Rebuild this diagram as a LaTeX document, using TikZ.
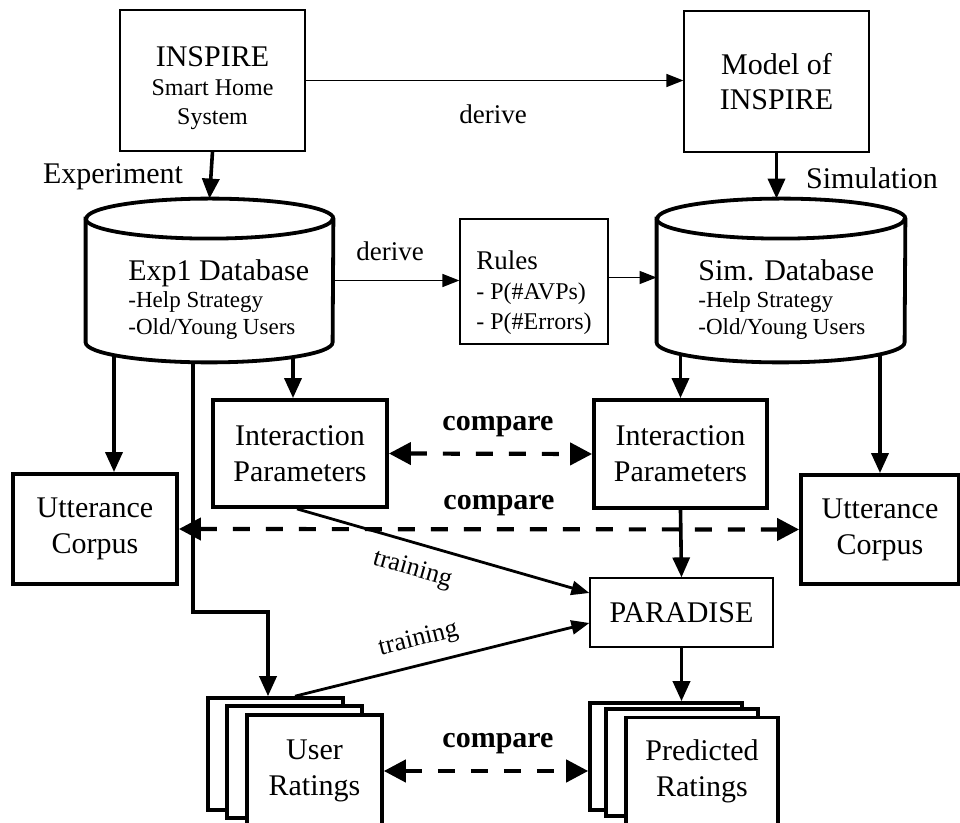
\documentclass[tikz,border=0pt]{standalone}
\usepackage{fontspec}
\setmainfont{Liberation Serif}
\usetikzlibrary{arrows.meta}

\begin{document}
\begin{tikzpicture}[x=0.5pt, y=-0.5pt,
  thinbox/.style={draw, line width=0.6pt, align=center, inner sep=0pt, font=\fontsize{15}{17.5}\selectfont},
  thickbox/.style={draw, line width=1.9pt, align=center, inner sep=0pt, font=\fontsize{15}{18}\selectfont},
  page/.style={draw, line width=1.8pt, fill=white, align=center, inner sep=0pt, font=\fontsize{15}{18}\selectfont},
  dbline/.style={line width=1.9pt, fill=white},
  dbtext/.style={align=left, inner sep=0pt, anchor=west, font=\fontsize{11.5}{13.5}\selectfont},
  lbl/.style={font=\fontsize{15}{18}\selectfont, inner sep=0pt},
  cmplbl/.style={font=\bfseries\fontsize{15}{18}\selectfont, inner sep=0pt},
  trainlbl/.style={font=\fontsize{13}{15}\selectfont, inner sep=0pt, sloped},
  arr/.style={line width=1.8pt, -{Triangle[length=10pt,width=8.5pt]}},
  thinarr/.style={line width=0.7pt, -{Triangle[length=8.5pt,width=6.5pt]}},
  trainarr/.style={line width=1.4pt, -{Triangle[length=9pt,width=7pt]}},
  cmparr/.style={line width=2.1pt, dash pattern=on 8.5pt off 8pt,
    {Triangle[length=11pt,width=11pt]}-{Triangle[length=11pt,width=11pt]}}]

\useasboundingbox (0,0) rectangle (960,823);

% systems
\node[thinbox, minimum width=92.5pt, minimum height=70.5pt, font=\fontsize{12}{14.5}\selectfont] (inspire) at (212.5,80.5)
  {\rule{0pt}{17.5pt}{\fontsize{15}{14.5}\selectfont INSPIRE}\\Smart Home\\System};
\node[thinbox, minimum width=92.5pt, minimum height=70.5pt] (model) at (776.5,81.5) {Model of\\INSPIRE};

\node[lbl] (explbl) at (113,177) {Experiment};
\node[lbl] (simlbl) at (872,178) {Simulation};
\node[lbl, font=\fontsize{13.5}{16}\selectfont] (derive1) at (493,114) {derive};
\node[lbl, font=\fontsize{13.5}{16}\selectfont] (derive2) at (390,251) {derive};

% databases (body only, outline drawn below)
\node[minimum width=123.5pt, minimum height=81.5pt, inner sep=0pt] (exp) at (209.5,280.5) {};
\node[minimum width=124pt, minimum height=81.5pt, inner sep=0pt] (sim) at (781,280.5) {};
\coordinate (expbot) at ([yshift=10pt]exp.south);
\coordinate (simbot) at ([yshift=10pt]sim.south);

\node[thinbox, align=left, minimum width=74pt, minimum height=62.5pt, font=\fontsize{12}{15}\selectfont] (rules) at (534,281.5)
  {\rule{0pt}{21pt}{\fontsize{13.5}{15}\selectfont Rules}\\- P(\#AVPs)\\- P(\#Errors)};

% parameters and corpora
\node[thickbox, minimum width=87pt, minimum height=53.5pt] (ipl) at (300,453.5) {Interaction\\Parameters};
\node[thickbox, minimum width=86.5pt, minimum height=54pt] (ipr) at (680.5,454) {Interaction\\Parameters};
\node[thickbox, minimum width=82pt, minimum height=55pt] (ucl) at (95,529) {Utterance\\Corpus};
\node[thickbox, minimum width=79pt, minimum height=54.5pt] (ucr) at (880,529.5) {Utterance\\Corpus};
\node[thinbox, minimum width=91.5pt, minimum height=34.5pt] (paradise) at (681.5,612.5) {PARADISE};

% rating stacks
\node[page, minimum width=67.5pt, minimum height=56pt] (urb) at (275.5,754) {};
\node[page, minimum width=67.5pt, minimum height=56pt] (urm) at (294.5,762) {};
\node[page, minimum width=67.5pt, minimum height=56pt] (urf) at (314.5,771) {User\\Ratings};
\node[page, minimum width=76pt, minimum height=53.5pt] (prb) at (666,756.5) {};
\node[page, minimum width=76pt, minimum height=53.5pt] (prm) at (682,762.5) {};
\node[page, minimum width=76pt, minimum height=53.5pt] (prf) at (702,771) {Predicted\\Ratings};

\coordinate (bend) at (268,612);

% from the databases (start hidden under the cylinders)
\draw[arr] ([xshift=9.5pt]ucl.north |- expbot) -- ([xshift=9.5pt]ucl.north);
\draw[arr] ([xshift=-3.5pt]ipl.north |- expbot) -- ([xshift=-3.5pt]ipl.north);
\draw[arr] ([xshift=-8.25pt]expbot) |- (bend) -- (bend |- urb.north);
\draw[arr] (ipr.north |- simbot) -- (ipr.north);
\draw[arr] (ucr.north |- simbot) -- (ucr.north);

\draw[dbline] ([yshift=-10pt]exp.north west) -- ([yshift=10pt]exp.south west)
  arc[start angle=180, end angle=360, x radius=61.75pt, y radius=10pt]
  -- ([yshift=-10pt]exp.north east)
  arc[start angle=0, end angle=180, x radius=61.75pt, y radius=10pt] -- cycle;
\draw[line width=1.9pt] ([yshift=-10pt]exp.north west)
  arc[start angle=180, end angle=360, x radius=61.75pt, y radius=10pt];
\draw[dbline] ([yshift=-10pt]sim.north west) -- ([yshift=10pt]sim.south west)
  arc[start angle=180, end angle=360, x radius=62pt, y radius=10pt]
  -- ([yshift=-10pt]sim.north east)
  arc[start angle=0, end angle=180, x radius=62pt, y radius=10pt] -- cycle;
\draw[line width=1.9pt] ([yshift=-10pt]sim.north west)
  arc[start angle=180, end angle=360, x radius=62pt, y radius=10pt];

\node[dbtext] (exptxt) at (128,300)
  {{\fontsize{15}{15.5}\selectfont Exp1 Database}\\-Help Strategy\\-Old/Young Users};
\node[dbtext] (simtxt) at (698,300)
  {{\fontsize{15}{15.5}\selectfont Sim. Database}\\-Help Strategy\\-Old/Young Users};

% connectors
\draw[thinarr] (inspire.east) -- (inspire.east -| model.west);
\draw[arr] (inspire.south) -- (exp.north);
\draw[arr] (model.south) -- (model.south |- sim.north);
\draw[thinarr] (exp.east) -- (exp.east -| rules.west);
\draw[thinarr] ([yshift=2pt]rules.east) -- ([yshift=2pt]rules.east -| sim.west);

\draw[cmparr] (ipl.east) -- (ipr.west);
\draw[cmparr] (ucl.east) -- (ucr.west);
\draw[cmparr] (urf.east) -- (urf.east -| prb.west);
\node[cmplbl] (cmp1) at (498,427) {compare};
\node[cmplbl] (cmp2) at (499,506) {compare};
\node[cmplbl] (cmp3) at (498,744) {compare};

\draw[arr] (ipr.south) -- (paradise.north);
\draw[trainarr] ([xshift=-1.5pt]ipl.south) -- node[trainlbl, pos=0.42, below=7pt] {training} ([yshift=9.75pt]paradise.west);
\draw[trainarr] ([xshift=9.75pt]urb.north) -- node[trainlbl, pos=0.44, above=6pt] {training} ([yshift=-5.25pt]paradise.west);
\draw[arr] (paradise.south) -- (paradise.south |- prb.north);

\end{tikzpicture}
\end{document}
